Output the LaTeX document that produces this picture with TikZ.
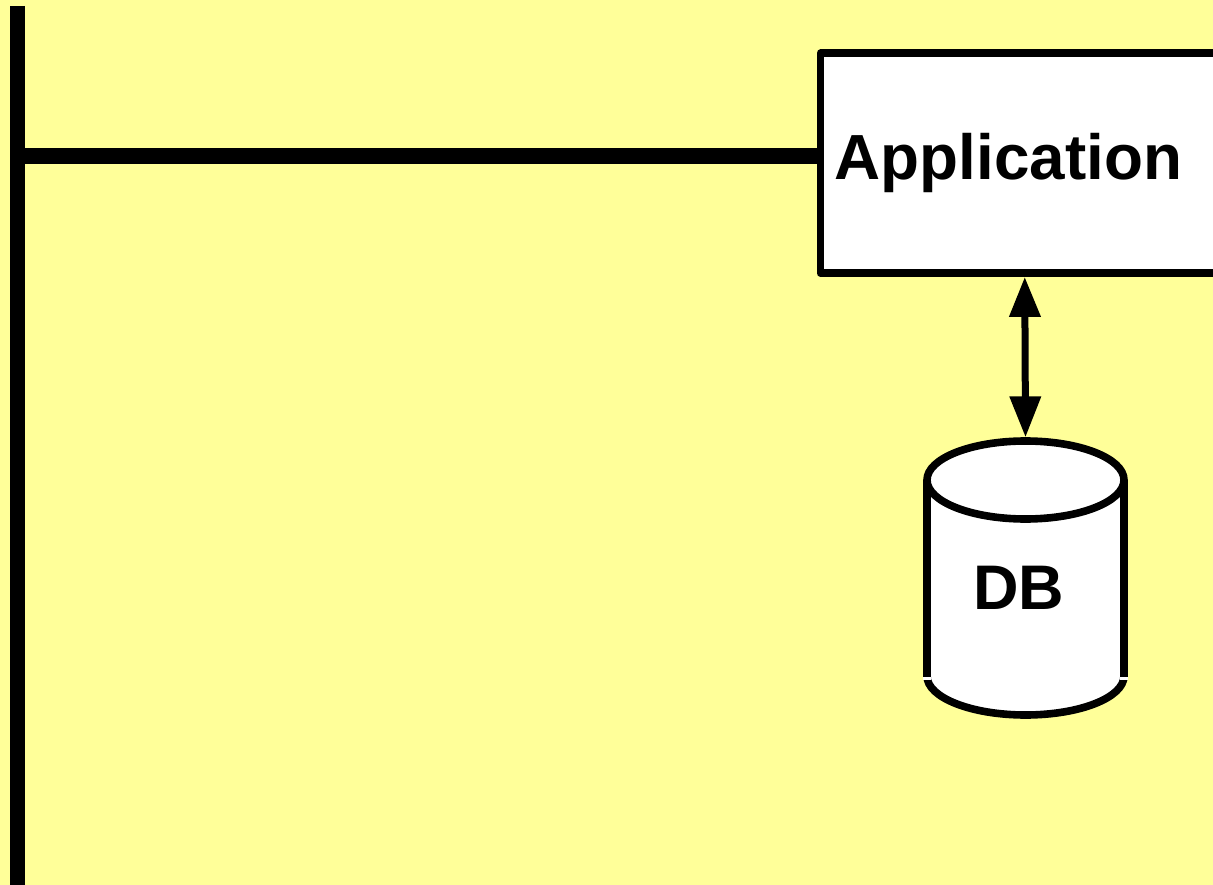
\documentclass[tikz,border=0pt]{standalone}
\usepackage{fontspec}
\setmainfont{Liberation Sans}
\usetikzlibrary{arrows.meta}
\definecolor{bgyellow}{HTML}{FFFF99}
\tikzset{
  busline/.style={line width=15pt,black},
  tapline/.style={line width=16pt,black},
  appbox/.style={draw=black,fill=white,line width=7.4pt,line join=round,minimum width=409.7pt,minimum height=220pt,inner sep=0pt},
  dbframe/.style={minimum width=204.4pt,minimum height=281.7pt,inner sep=0pt,outer sep=0pt},
  dbline/.style={draw=black,line width=7.6pt},
  biglabel/.style={font=\fontsize{63}{70}\selectfont\bfseries,text=black,inner sep=0pt,anchor=base west},
  applabel/.style={biglabel,font=\fontsize{63.8}{70}\selectfont\bfseries},
  dblink/.style={line width=7pt,black,{Triangle[length=40pt,width=30pt]}-{Triangle[length=41pt,width=30pt]}}
}
\begin{document}
\begin{tikzpicture}[x=1pt,y=-1pt]
\useasboundingbox (0,0) rectangle (1213,885);
\clip (0,0) rectangle (1213,885);
\fill[bgyellow] (0,0) rectangle (1213,885);
% bus
\coordinate (bustop) at (17.5,6);
\coordinate (busbot) at (17.5,885);
\coordinate (tap) at (17.5,156);
\draw[busline] (bustop) -- (busbot);
% application box
\node[appbox] (app) at (1025.15,163.2) {};
\draw[tapline] (tap) -- (tap -| app.west);
\node[applabel] (apptext) at (834.5,180) {Application};
% database cylinder
\node[dbframe] (db) at (1025.5,578.2) {};
\fill[white] (927,480) rectangle (1124,676) (927,676) arc[start angle=180,end angle=360,x radius=98.5pt,y radius=39pt] -- cycle;
\filldraw[dbline,fill=white] (1025.5,480) ellipse [x radius=98.5pt,y radius=39pt];
\draw[dbline] (927,480) -- (927,677);
\draw[dbline] (1124,480) -- (1124,677);
\draw[dbline] (927,676) arc[start angle=180,end angle=360,x radius=98.5pt,y radius=39pt];
\fill[white] (923.2,677) rectangle (931,680);
\fill[white] (1120,677) rectangle (1127.8,680);
\node[biglabel] (dbtext) at (973,609) {DB};
% link
\draw[dblink] ([xshift=-0.4pt]app.south) -- (db.north);
\end{tikzpicture}
\end{document}
